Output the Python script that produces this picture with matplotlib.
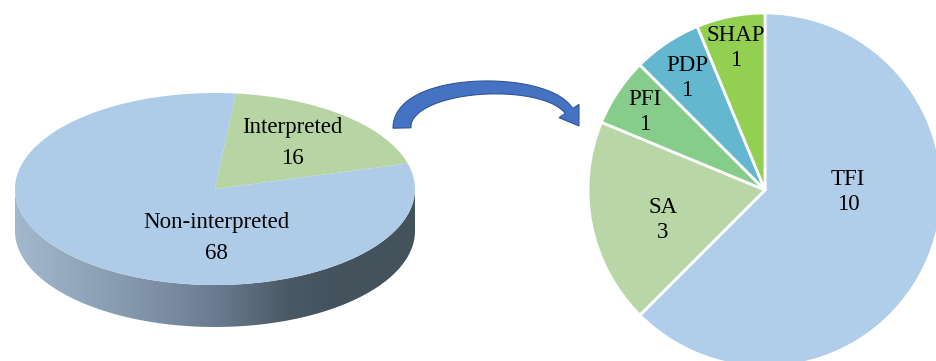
import numpy as np
import matplotlib
matplotlib.use("Agg")
import matplotlib.pyplot as plt
from matplotlib.patches import Polygon
from matplotlib.colors import LinearSegmentedColormap

# ---- data ----
overview_labels = ["Interpreted", "Non-interpreted"]
overview_counts = [16, 68]
overview_colors = ["#B6D5A2", "#AECCE7"]

method_labels = ["TFI", "SA", "PFI", "PDP", "SHAP"]
method_counts = [10, 3, 1, 1, 1]
method_colors = ["#B0CDE9", "#B9D7A6", "#86CC8A", "#63B7CF", "#93D052"]

FONT = "Liberation Serif"
FS = 16.5

W, H = 936, 361
fig = plt.figure(figsize=(W / 100, H / 100), dpi=100)
fig.patch.set_facecolor("white")


def px_axes(x0, y0, x1, y1):
    """Axes occupying the pixel box (x0, y0)-(x1, y1), y measured from top."""
    return fig.add_axes([x0 / W, 1 - y1 / H, (x1 - x0) / W, (y1 - y0) / H])


# ---- left: tilted pie with extruded side ----
cx, cy, rx, ry = 215, 189, 200, 96      # pixel geometry of the top face
depth = 42 / ry                          # side depth in data units
axL = px_axes(0, 60, 470, 361)
axL.set_axis_off()

theta = np.linspace(np.pi, 2 * np.pi, 200)
top = np.column_stack([np.cos(theta), np.sin(theta)])
bot = np.column_stack([np.cos(theta[::-1]), np.sin(theta[::-1]) - depth])
side = Polygon(np.vstack([top, bot]), closed=True, facecolor="none",
               edgecolor="none", zorder=0)
axL.add_patch(side)
side_cmap = LinearSegmentedColormap.from_list(
    "side", [(0.0, "#A2B8CD"), (0.25, "#899DB2"), (0.5, "#6A7C90"),
             (0.68, "#4A5964"), (0.8, "#44525D"), (1.0, "#44525C")])
grad = np.linspace(0, 1, 256).reshape(1, -1)
im = axL.imshow(grad, cmap=side_cmap, extent=(-1, 1, -1 - depth, 0),
                aspect="auto", zorder=0, interpolation="bilinear")
im.set_clip_path(side)

axL.pie(overview_counts, colors=overview_colors, startangle=84,
        counterclock=False, radius=1, wedgeprops=dict(linewidth=0))
axL.set_aspect("auto")
axL.set_xlim((0 - cx) / rx, (470 - cx) / rx)
axL.set_ylim((cy - 361) / ry, (cy - 60) / ry)

overview_text_pos = [(0.385, 0.48), (0.005, -0.51)]
for lab, val, (tx, ty) in zip(overview_labels, overview_counts, overview_text_pos):
    axL.text(tx, ty, f"{lab}\n{val}", ha="center", va="center",
             fontsize=FS, family=FONT, linespacing=1.6, zorder=5)

# ---- right: breakdown of interpreted methods ----
pcx, pcy, pr = 765, 190, 177
axR = px_axes(560, 0, 936, 361)
axR.set_axis_off()
axR.pie(method_counts, colors=method_colors, startangle=90,
        counterclock=False, radius=1,
        wedgeprops=dict(edgecolor="white", linewidth=2.0))
axR.set_aspect("auto")
axR.set_xlim((560 - pcx) / pr, (936 - pcx) / pr)
axR.set_ylim((pcy - 361) / pr, pcy / pr)

method_text_pos = [(0.469, -0.011), (-0.576, -0.169), (-0.678, 0.441),
                   (-0.441, 0.633), (-0.164, 0.802)]
for lab, val, (tx, ty) in zip(method_labels, method_counts, method_text_pos):
    axR.text(tx, ty, f"{lab}\n{val}", ha="center", va="center",
             fontsize=FS, family=FONT, linespacing=1.3, zorder=5)

# ---- curved arrow linking the two pies ----
axA = px_axes(0, 0, W, H)
axA.set_axis_off()
axA.set_xlim(0, W)
axA.set_ylim(H, 0)
axA.patch.set_alpha(0)

P = np.array([[402, 128], [401, 80], [545, 75], [569, 111]], float)
t = np.linspace(0, 1, 120)[:, None]
curve = ((1 - t) ** 3) * P[0] + 3 * ((1 - t) ** 2) * t * P[1] \
    + 3 * (1 - t) * t ** 2 * P[2] + t ** 3 * P[3]
deriv = 3 * ((1 - t) ** 2) * (P[1] - P[0]) + 6 * (1 - t) * t * (P[2] - P[1]) \
    + 3 * t ** 2 * (P[3] - P[2])
tang = deriv / np.linalg.norm(deriv, axis=1, keepdims=True)
norm = np.column_stack([-tang[:, 1], tang[:, 0]])
width = (18 - 9 * t[:, 0])[:, None] / 2
left_edge = curve + norm * width
right_edge = curve - norm * width
end, tdir, ndir = curve[-1], tang[-1], norm[-1]
head = [end + ndir * 12, end + tdir * 18, end - ndir * 12]
outline = np.vstack([left_edge, head, right_edge[::-1]])
axA.add_patch(Polygon(outline, closed=True, facecolor="#4572C2",
                      edgecolor="#2F5597", linewidth=0.8, zorder=10))

fig.savefig("out.png", dpi=100, facecolor="white")
